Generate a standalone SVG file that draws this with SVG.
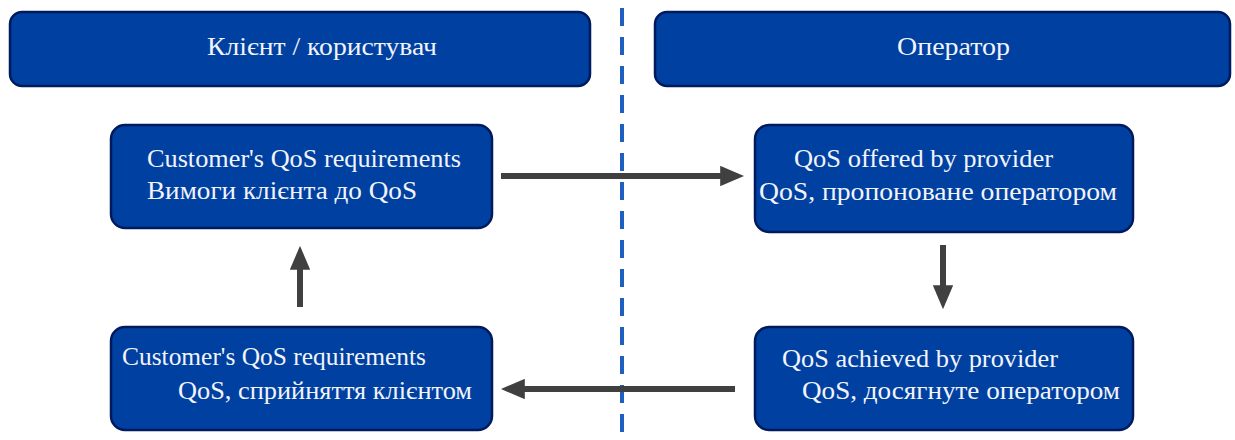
<svg xmlns="http://www.w3.org/2000/svg" width="1235" height="440" viewBox="0 0 1235 440">
<style>
.box{fill:#0040a0;stroke:#001a5e;stroke-width:2.5}
.t{font-size:26px;fill:#f2f4fa}
.h{text-anchor:middle}
.c{stroke:#404040;stroke-width:6;fill:none}
</style>
<defs>
<marker id="ah" markerWidth="4" markerHeight="3.4" refX="0.8" refY="1.7" orient="auto" markerUnits="strokeWidth">
<path d="M0,0 L4,1.7 L0,3.4 Z" fill="#404040"/>
</marker>
</defs>
<rect width="1235" height="440" fill="#ffffff"/>
<line x1="622" y1="8" x2="622" y2="440" stroke="#1f5fc0" stroke-width="4" stroke-dasharray="18,11"/>
<g font-family="'Liberation Serif', 'DejaVu Serif', 'Times New Roman', serif" lengthAdjust="spacingAndGlyphs">
<g id="header-client"><rect class="box" x="10" y="12" width="580" height="74" rx="12"/><text class="t" x="207" y="55" textLength="230" lengthAdjust="spacingAndGlyphs">Клієнт / користувач</text></g>
<g id="header-operator"><rect class="box" x="655" y="12" width="575" height="74" rx="12"/><text class="t" x="897" y="55" textLength="113" lengthAdjust="spacingAndGlyphs">Оператор</text></g>
<g id="n1"><rect class="box" x="111" y="125" width="381" height="103" rx="14"/><text class="t" x="147" y="167" textLength="314" lengthAdjust="spacingAndGlyphs">Customer's QoS requirements</text><text class="t" x="147" y="199" textLength="270" lengthAdjust="spacingAndGlyphs">Вимоги клієнта до QoS</text></g>
<g id="n2"><rect class="box" x="755" y="125" width="378" height="107" rx="14"/><text class="t" x="794" y="167" textLength="259" lengthAdjust="spacingAndGlyphs">QoS offered by provider</text><text class="t" x="759" y="200" textLength="358" lengthAdjust="spacingAndGlyphs">QoS, пропоноване оператором</text></g>
<g id="n3"><rect class="box" x="111" y="327" width="381" height="103" rx="14"/><text class="t" x="122" y="365" textLength="304" lengthAdjust="spacingAndGlyphs">Customer's QoS requirements</text><text class="t" x="178" y="399" textLength="294" lengthAdjust="spacingAndGlyphs">QoS, сприйняття клієнтом</text></g>
<g id="n4"><rect class="box" x="755" y="327" width="378" height="103" rx="14"/><text class="t" x="782" y="367" textLength="276" lengthAdjust="spacingAndGlyphs">QoS achieved by provider</text><text class="t" x="802" y="399" textLength="318" lengthAdjust="spacingAndGlyphs">QoS, досягнуте оператором</text></g>
</g>
<g id="connectors">
<line class="c" x1="501" y1="176" x2="725" y2="176" marker-end="url(#ah)"/>
<line class="c" x1="943" y1="245" x2="943" y2="290" marker-end="url(#ah)"/>
<line class="c" x1="735" y1="389" x2="520" y2="389" marker-end="url(#ah)"/>
<line class="c" x1="300" y1="307" x2="300" y2="265" marker-end="url(#ah)"/>
</g>
</svg>
